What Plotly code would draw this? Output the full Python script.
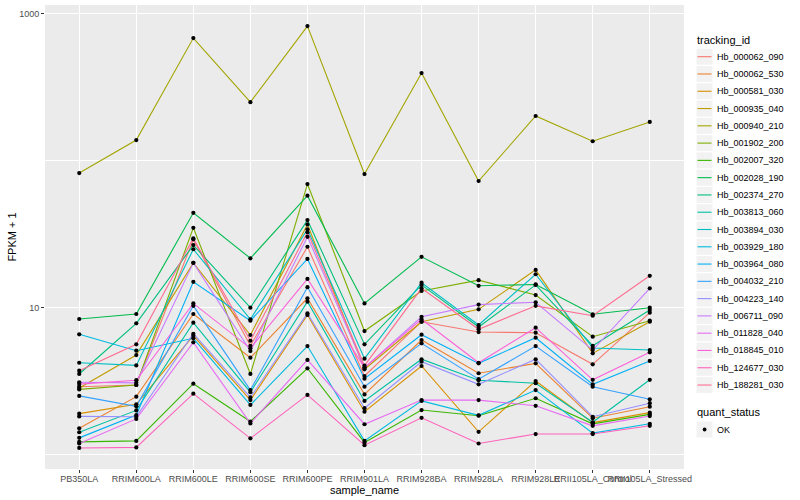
import plotly.graph_objects as go

samples = ["PB350LA", "RRIM600LA", "RRIM600LE", "RRIM600SE", "RRIM600PE", "RRIM901LA",
           "RRIM928BA", "RRIM928LA", "RRIM928LE", "RRII105LA_Control", "RRII105LA_Stressed"]

tracking_ids = ["Hb_000062_090", "Hb_000062_530", "Hb_000581_030", "Hb_000935_040", "Hb_000940_210",
                "Hb_001902_200", "Hb_002007_320", "Hb_002028_190", "Hb_002374_270", "Hb_003813_060",
                "Hb_003894_030", "Hb_003929_180", "Hb_003964_080", "Hb_004032_210", "Hb_004223_140",
                "Hb_006711_090", "Hb_011828_040", "Hb_018845_010", "Hb_124677_030", "Hb_188281_030"]

colors = ["#F8766D", "#EA8331", "#D89000", "#C09B00", "#A3A500", "#7CAE00", "#39B600", "#00BB4E",
          "#00BF7D", "#00C1A3", "#00BFC4", "#00BAE0", "#00B0F6", "#35A2FF", "#9590FF", "#C77CFF",
          "#E76BF3", "#FA62DB", "#FF62BC", "#FF6C91"]

# FPKM + 1 per sample (order of `samples`)
hb_000062_090 = [2.90, 2.98, 29.2, 5.51, 26.0, 3.43, 8.03, 6.83, 6.76, 4.12, 9.25]
hb_000062_530 = [1.51, 2.48, 9.06, 4.57, 11.6, 2.57, 6.03, 3.58, 4.18, 1.77, 2.12]
hb_000581_030 = [1.90, 2.20, 6.45, 2.35, 8.92, 1.96, 4.01, 1.43, 3.17, 1.65, 1.93]
hb_000935_040 = [2.84, 4.76, 20.2, 6.52, 36.9, 3.81, 8.03, 9.75, 18.1, 4.89, 8.03]
hb_000940_210 = [82.6, 138.5, 685, 251, 827, 81.3, 396, 72.9, 202, 136, 184]
hb_001902_200 = [2.78, 2.98, 35.0, 3.54, 69.5, 6.94, 13.0, 15.4, 12.2, 6.35, 8.16]
hb_002007_320 = [1.22, 1.24, 3.04, 1.68, 3.87, 1.21, 2.01, 1.84, 2.42, 1.62, 1.88]
hb_002028_190 = [8.38, 9.06, 44.3, 21.7, 57.9, 10.7, 22.2, 14.1, 14.4, 9.02, 10.0]
hb_002374_270 = [3.54, 7.83, 26.7, 10.0, 39.5, 5.63, 14.3, 7.39, 14.3, 5.51, 9.65]
hb_003813_060 = [1.42, 2.00, 7.91, 2.66, 11.0, 2.32, 4.46, 3.21, 3.06, 1.66, 3.23]
hb_003894_030 = [4.22, 4.05, 25.0, 8.34, 34.2, 4.50, 14.8, 7.63, 16.9, 5.32, 5.15]
hb_003929_180 = [6.59, 5.10, 6.19, 2.18, 5.48, 1.24, 2.32, 1.85, 2.75, 1.40, 1.62]
hb_003964_080 = [1.30, 1.86, 15.0, 8.16, 21.5, 3.29, 6.55, 4.18, 6.25, 3.01, 4.34]
hb_004032_210 = [2.51, 2.13, 10.3, 2.75, 13.8, 2.90, 5.72, 3.26, 5.48, 2.90, 2.38]
hb_004223_140 = [1.82, 1.81, 6.65, 2.45, 9.16, 2.07, 4.29, 3.01, 4.46, 1.81, 2.24]
hb_006711_090 = [3.11, 3.08, 20.2, 5.07, 30.4, 3.91, 8.68, 10.5, 10.9, 5.15, 13.55]
hb_011828_040 = [1.19, 1.75, 5.81, 1.63, 4.41, 1.61, 2.35, 2.35, 2.15, 1.57, 1.83]
hb_018845_010 = [3.02, 3.21, 10.7, 5.29, 15.7, 3.91, 8.34, 4.22, 7.31, 3.23, 4.97]
hb_124677_030 = [1.11, 1.12, 2.60, 1.29, 2.55, 1.16, 1.78, 1.19, 1.38, 1.38, 1.57]
hb_188281_030 = [3.73, 5.63, 29.7, 5.96, 32.6, 4.03, 13.55, 7.13, 10.3, 8.82, 16.5]

series = [hb_000062_090, hb_000062_530, hb_000581_030, hb_000935_040, hb_000940_210,
          hb_001902_200, hb_002007_320, hb_002028_190, hb_002374_270, hb_003813_060,
          hb_003894_030, hb_003929_180, hb_003964_080, hb_004032_210, hb_004223_140,
          hb_006711_090, hb_011828_040, hb_018845_010, hb_124677_030, hb_188281_030]

quant_status = "OK"

FONT = "Liberation Sans, Arial, Helvetica, sans-serif"
W, H = 800, 500
ML, MR, MT, MB = 45, 116, 5, 31
PW, PH = W - ML - MR, H - MT - MB


def pxx(x):
    return (x - ML) / PW


def pxy(y):
    return (H - MB - y) / PH


fig = go.Figure()
for tid, col, vals in zip(tracking_ids, colors, series):
    fig.add_trace(go.Scatter(x=samples, y=vals, mode="lines", name=tid,
                             line=dict(color=col, width=1.1), showlegend=False))

all_x, all_y = [], []
for vals in series:
    all_x.extend(samples)
    all_y.extend(vals)
fig.add_trace(go.Scatter(x=all_x, y=all_y, mode="markers", name=quant_status,
                         marker=dict(color="black", size=4.2), showlegend=False))

# ---- legend drawn in ggplot style (grey key boxes) ----
shapes, annotations = [], []
KEY_L, KEY_R = 696.5, 712.5
TEXT_X = 715.5
FIRST, PITCH = 56.7, 17.28
annotations.append(dict(text="tracking_id", x=pxx(695.5), y=pxy(40.5), xref="paper", yref="paper",
                        xanchor="left", yanchor="middle", showarrow=False, borderpad=0,
                        font=dict(size=11, color="black", family=FONT)))
for i, (tid, col) in enumerate(zip(tracking_ids, colors)):
    cy = FIRST + i * PITCH
    shapes.append(dict(type="rect", xref="paper", yref="paper", x0=pxx(KEY_L), x1=pxx(KEY_R),
                       y0=pxy(cy - 8), y1=pxy(cy + 8), fillcolor="#F2F2F2", line=dict(width=0)))
    shapes.append(dict(type="line", xref="paper", yref="paper", x0=pxx(KEY_L + 1), x1=pxx(KEY_R - 1),
                       y0=pxy(cy), y1=pxy(cy), line=dict(color=col, width=1.1)))
    annotations.append(dict(text=tid, x=pxx(TEXT_X), y=pxy(cy), xref="paper", yref="paper",
                            xanchor="left", yanchor="middle", showarrow=False, borderpad=0,
                            font=dict(size=9, color="black", family=FONT)))

QS_TITLE, QS_KEY = 412.0, 429.5
annotations.append(dict(text="quant_status", x=pxx(695.5), y=pxy(QS_TITLE), xref="paper", yref="paper",
                        xanchor="left", yanchor="middle", showarrow=False, borderpad=0,
                        font=dict(size=11, color="black", family=FONT)))
shapes.append(dict(type="rect", xref="paper", yref="paper", x0=pxx(KEY_L), x1=pxx(KEY_R),
                   y0=pxy(QS_KEY - 8), y1=pxy(QS_KEY + 8), fillcolor="#F2F2F2", line=dict(width=0)))
shapes.append(dict(type="circle", xref="paper", yref="paper", x0=pxx(702.7), x1=pxx(706.5),
                   y0=pxy(QS_KEY - 1.9), y1=pxy(QS_KEY + 1.9), fillcolor="black", line=dict(width=0)))
annotations.append(dict(text=quant_status, x=pxx(TEXT_X), y=pxy(QS_KEY), xref="paper", yref="paper",
                        xanchor="left", yanchor="middle", showarrow=False, borderpad=0,
                        font=dict(size=9, color="black", family=FONT)))

fig.update_layout(
    width=W, height=H,
    margin=dict(l=ML, r=MR, t=MT, b=MB, autoexpand=False),
    paper_bgcolor="white", plot_bgcolor="#EBEBEB",
    font=dict(family=FONT, size=9, color="#4D4D4D"),
    showlegend=False,
    xaxis=dict(type="category", categoryorder="array", categoryarray=samples,
               range=[-0.6, 10.6], showgrid=True, gridcolor="white", gridwidth=1.1,
               ticks="outside", ticklen=3, tickcolor="#333333", tickangle=0,
               ticklabelstandoff=-2, automargin=False,
               tickfont=dict(size=9, color="#4D4D4D"), zeroline=False, showline=False,
               title=dict(text="sample_name", font=dict(size=11, color="black"), standoff=0)),
    yaxis=dict(type="log", range=[-0.098, 3.061], tickvals=[10, 1000], ticktext=["10", "1000"],
               showgrid=True, gridcolor="white", gridwidth=1.1, automargin=False,
               minor=dict(tickvals=[1, 100], showgrid=True, gridcolor="white", gridwidth=0.55),
               ticks="outside", ticklen=3, tickcolor="#333333",
               tickfont=dict(size=9, color="#4D4D4D"), zeroline=False, showline=False,
               title=dict(text="FPKM + 1", font=dict(size=11, color="black"), standoff=0)),
    shapes=shapes,
    annotations=annotations,
)

fig.write_html("out.html", config={"displayModeBar": False},
               post_script="document.body.style.margin='0px';")
